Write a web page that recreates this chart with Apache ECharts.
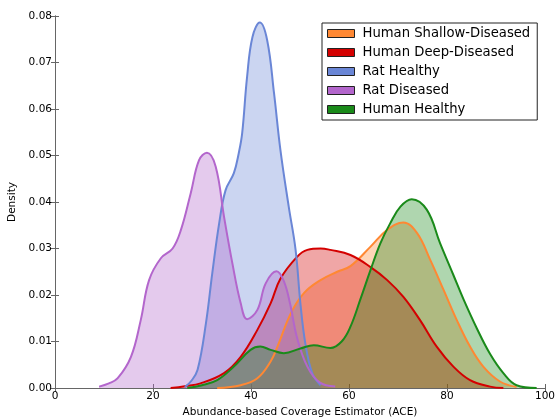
<!DOCTYPE html>
<html><head><meta charset="utf-8">
<script src="https://cdn.jsdelivr.net/npm/echarts@6/dist/echarts.min.js"></script>
<style>html,body{margin:0;padding:0;background:#fff;overflow:hidden}#c{width:556px;height:418px}</style>
</head><body><div id="c"></div>
<script>
const seriesNames = ["Human Shallow-Diseased","Human Deep-Diseased","Rat Healthy","Rat Diseased","Human Healthy"];
const xTicks = [0,20,40,60,80,100];
const yTicks = [0,0.01,0.02,0.03,0.04,0.05,0.06,0.07,0.08];

const shallowX = [33.1,37.9,41.3,44,45.4,48.1,50.8,54.2,57.6,60.3,64.4,67.8,71.1,73.9,76.6,79.3,82,84.7,87.4,90.8,94.2];
const shallowY = [0.0000,0.0006,0.0021,0.0057,0.0089,0.0160,0.0204,0.0232,0.0250,0.0262,0.0304,0.0340,0.0356,0.0333,0.0275,0.0211,0.0146,0.0089,0.0046,0.0014,0.0002];

const deepX = [23.6,26.5,29.7,34.5,37.9,41.3,44,46,49.4,51.5,54.2,56.2,60.3,64.4,67.8,71.1,74.5,77.9,81.3,84.7,88.8,91.5];
const deepY = [0.0000,0.0004,0.0010,0.0032,0.0067,0.0125,0.0182,0.0235,0.0282,0.0297,0.0300,0.0297,0.0286,0.0260,0.0232,0.0196,0.0146,0.0089,0.0046,0.0017,0.0003,0.0000];

const ratHealthyX = [26.5,27.8,29.1,30.8,32.1,33.5,34.8,36.5,37.5,38.2,39.2,40.3,41.8,43.3,44.7,46,47.7,49.1,50.1,51.1,52.5,54.2];
const ratHealthyY = [0.0002,0.0015,0.0039,0.0139,0.0247,0.0354,0.0425,0.0462,0.0505,0.0548,0.0669,0.0755,0.0786,0.0748,0.0634,0.0512,0.0390,0.0297,0.0180,0.0095,0.0032,0.0006];

const ratDiseasedX = [9.0,11,12.8,15.5,17.5,19.2,21.6,24,25.7,27.7,29.4,31,32.8,34.5,36.2,37.9,39.2,41.3,43,45.2,46.7,48,49.4,51.5,54,57.2];
const ratDiseasedY = [0.0003,0.0010,0.0021,0.0067,0.0146,0.0232,0.0279,0.0300,0.0340,0.0419,0.0490,0.0506,0.0476,0.0368,0.0268,0.0182,0.0148,0.0168,0.0225,0.0251,0.0230,0.0180,0.0108,0.0046,0.0012,0.0003];

const humanHealthyX = [27,30,33.1,36.5,39.9,41.9,44,46.7,50.1,52.8,56.2,58.5,60.3,62.3,64.4,66.4,68.4,70.5,72.8,75.9,78.6,81.3,83.4,86.1,88.8,91.5,94.2,98.3];
const humanHealthyY = [0.0000,0.0006,0.0017,0.0046,0.0082,0.0089,0.0082,0.0075,0.0085,0.0092,0.0086,0.0100,0.0132,0.0190,0.0254,0.0311,0.0354,0.0390,0.0406,0.0383,0.0311,0.0243,0.0190,0.0128,0.0073,0.0032,0.0006,0.0000];

const colors = ["#ff8833","#d40000","#6a86d6","#b366cc","#1a8a1a"];
const xs = [shallowX, deepX, ratHealthyX, ratDiseasedX, humanHealthyX];
const ys = [shallowY, deepY, ratHealthyY, ratDiseasedY, humanHealthyY];

const font = "DejaVu Sans";
const axisLine = {show:true, lineStyle:{color:"#666", width:1}};
const tick = {show:true, inside:true, length:4, lineStyle:{color:"#666"}};

const fills = seriesNames.map((n,i)=>({
  name:n+" fill", type:"line", xAxisIndex:0, yAxisIndex:0,
  data: xs[i].map((x,j)=>[x, ys[i][j]]),
  smooth:0.4, showSymbol:false, symbol:"none",
  lineStyle:{width:0, opacity:0},
  areaStyle:{color:colors[i], opacity:0.35, origin:"start"},
  z:2+i, silent:true
}));
const lines = seriesNames.map((n,i)=>({
  name:n, type:"line", xAxisIndex:0, yAxisIndex:0,
  data: xs[i].map((x,j)=>[x, ys[i][j]]),
  smooth:0.4, showSymbol:false, symbol:"none",
  lineStyle:{color:colors[i], width:2},
  itemStyle:{color:colors[i]},
  z:10+i
}));

const chart = echarts.init(document.getElementById("c"), null, {renderer:"canvas"});
chart.setOption({
  animation:false,
  backgroundColor:"#fff",
  grid:{left:55, right:11, top:16, bottom:30, containLabel:false, outerBoundsMode:"none"},
  legend:{
    data: seriesNames.map((n,i)=>({name:n, icon:"rect", itemStyle:{color:colors[i], borderColor:"#222", borderWidth:1}})),
    orient:"vertical", left:322, top:23,
    itemWidth:27, itemHeight:8, itemGap:4,
    padding:[3,7,3,5],
    borderColor:"#222", borderWidth:1, backgroundColor:"#fff",
    textStyle:{fontFamily:font, fontSize:13.2, color:"#000", lineHeight:15, padding:[0,0,0,3]},
    selectedMode:false
  },
  xAxis:[
    {type:"value", min:0, max:100, interval:20, position:"bottom",
     name:"Abundance-based Coverage Estimator (ACE)", nameLocation:"middle", nameGap:18,
     nameTextStyle:{fontFamily:font, fontSize:10.5, color:"#000"},
     axisLine:axisLine, axisTick:tick, splitLine:{show:false},
     axisLabel:{fontFamily:font, fontSize:10.5, color:"#000", margin:3}},
    {type:"value", min:0, max:100, interval:20, position:"top",
     axisLine:axisLine, axisTick:tick, splitLine:{show:false}, axisLabel:{show:false}}
  ],
  yAxis:[
    {type:"value", min:0, max:0.08, interval:0.01, position:"left",
     name:"Density", nameLocation:"middle", nameGap:33,
     nameTextStyle:{fontFamily:font, fontSize:10.5, color:"#000"},
     axisLine:axisLine, axisTick:tick, splitLine:{show:false},
     axisLabel:{fontFamily:font, fontSize:10.5, color:"#000", margin:3, formatter:v=>v.toFixed(2)}},
    {type:"value", min:0, max:0.08, interval:0.01, position:"right",
     axisLine:axisLine, axisTick:tick, splitLine:{show:false}, axisLabel:{show:false}}
  ],
  series: fills.concat(lines)
});
</script></body></html>
